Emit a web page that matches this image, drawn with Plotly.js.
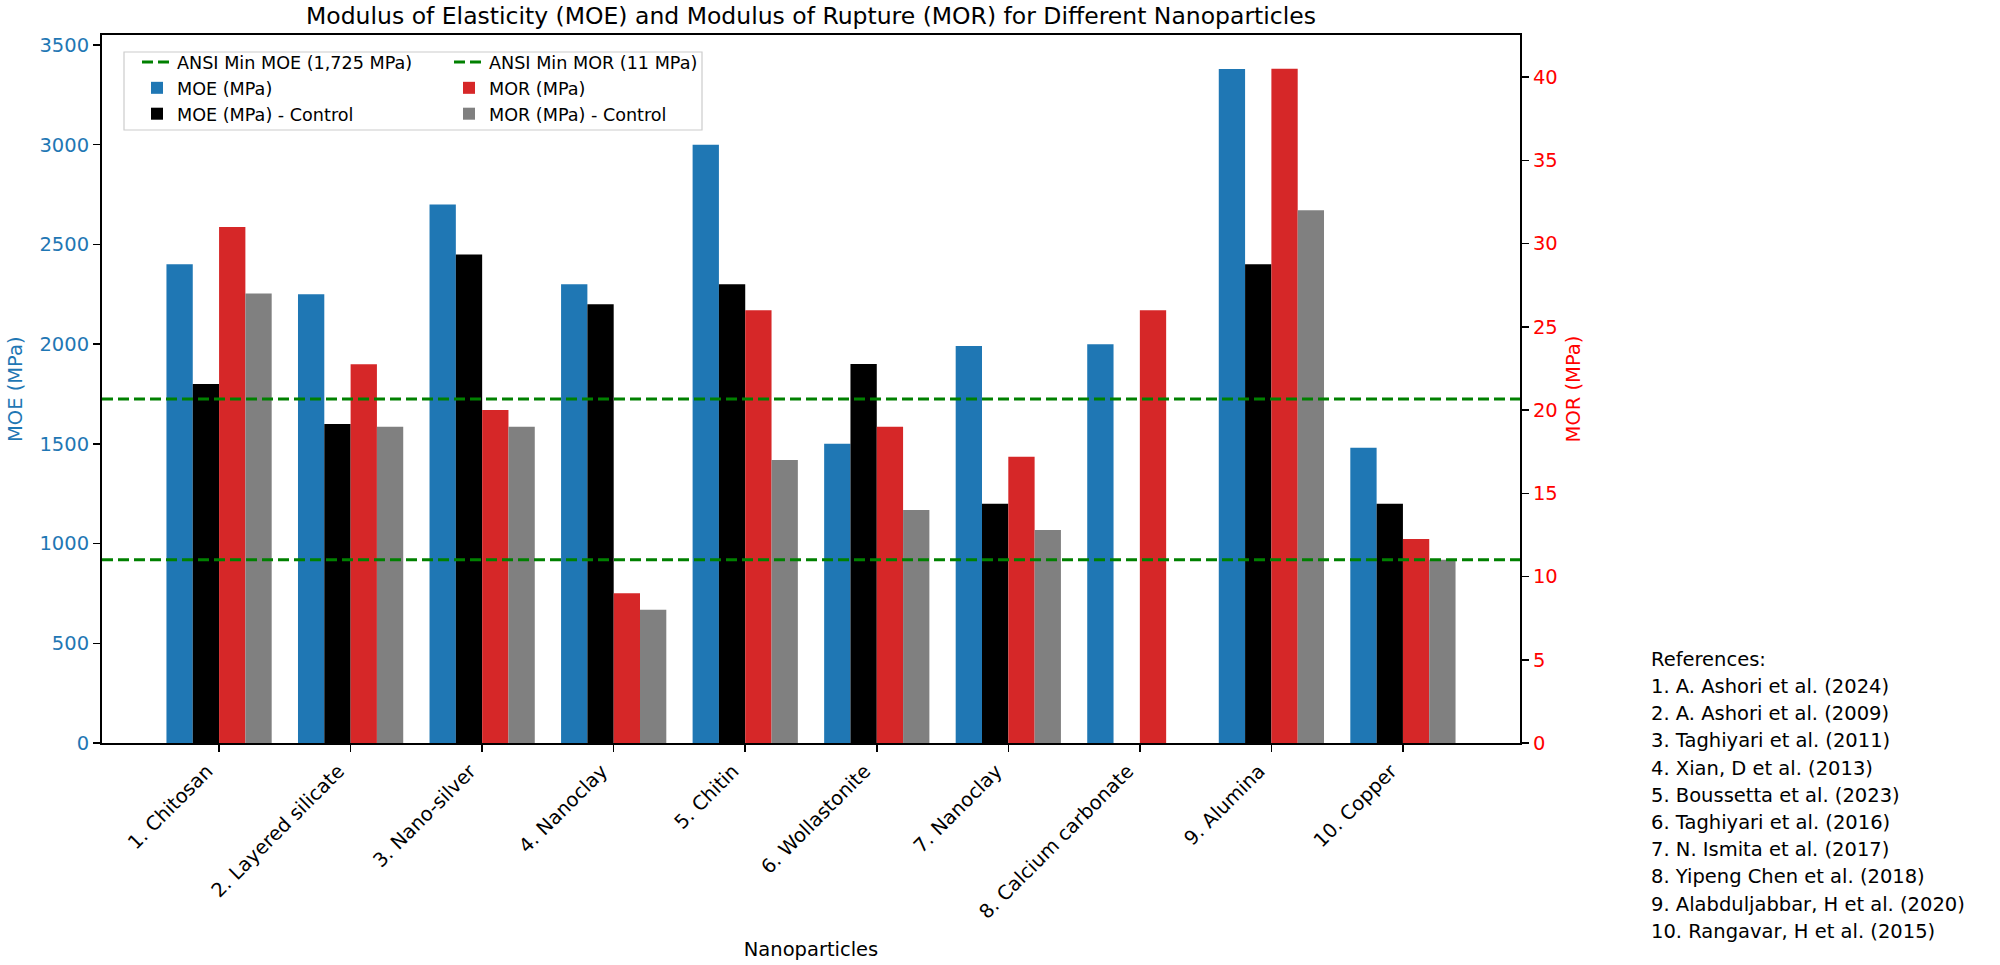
<!DOCTYPE html>
<html>
<head>
<meta charset="utf-8">
<script src="https://cdn.plot.ly/plotly-3.0.1.min.js"></script>
<style>html,body{margin:0;padding:0;background:#fff;}#chart{width:2000px;height:965px;}</style>
</head>
<body>
<div id="chart"></div>
<script>
// ---- data ----
const categories = ["1. Chitosan", "2. Layered silicate", "3. Nano-silver", "4. Nanoclay", "5. Chitin",
  "6. Wollastonite", "7. Nanoclay", "8. Calcium carbonate", "9. Alumina", "10. Copper"];
const moe = [2400, 2250, 2700, 2300, 3000, 1500, 1990, 2000, 3380, 1480];
const moeControl = [1800, 1600, 2450, 2200, 2300, 1900, 1200, null, 2400, 1200];
const mor = [31, 22.75, 20, 9, 26, 19, 17.2, 26, 40.5, 12.25];
const morControl = [27, 19, 19, 8, 17, 14, 12.8, null, 32, 11];
const ansiMinMOE = 1725;
const ansiMinMOR = 11;
const references = ["References:", "1. A. Ashori et al. (2024)", "2. A. Ashori et al. (2009)",
  "3. Taghiyari et al. (2011)", "4. Xian, D et al. (2013)", "5. Boussetta et al. (2023)",
  "6. Taghiyari et al. (2016)", "7. N. Ismita et al. (2017)", "8. Yipeng Chen et al. (2018)",
  "9. Alabduljabbar, H et al. (2020)", "10. Rangavar, H et al. (2015)"];

// ---- layout geometry (pixels) ----
const W = 2000, H = 965;
const PL = 102, PR = 1520, PT = 35, PB = 743;
const FONT = "DejaVu Sans, Verdana, sans-serif";
const px2paperX = p => (p - PL) / (PR - PL);
const px2paperY = p => (PB - p) / (PB - PT);

const BLUE = "#1f77b4", RED = "#d62728", LABELRED = "#ff0000";

function bar(name, y, color, offset, yaxis, legend, rank) {
  return {
    type: "bar", name: name, x: categories, y: y, yaxis: yaxis,
    marker: {color: color, line: {width: 0}},
    width: 0.2, offset: offset, legend: legend, legendrank: rank,
    hoverinfo: "x+y+name"
  };
}

const traces = [
  bar("MOE (MPa)", moe, BLUE, -0.4, "y", "legend", 2),
  bar("MOE (MPa) - Control", moeControl, "#000000", -0.2, "y", "legend", 3),
  bar("MOR (MPa)", mor, RED, 0.0, "y2", "legend2", 2),
  bar("MOR (MPa) - Control", morControl, "#808080", 0.2, "y2", "legend2", 3)
];

const annotations = references.map((t, i) => ({
  text: t, xref: "paper", yref: "paper", showarrow: false,
  x: px2paperX(1649), xanchor: "left",
  y: px2paperY(666 + 27.2 * i - 6.8), yanchor: "middle",
  font: {family: FONT, size: 19.5, color: "#000"}
}));
annotations.push({
  text: "MOE (MPa)", xref: "paper", yref: "paper", showarrow: false,
  x: px2paperX(15), xanchor: "center", y: 0.5, yanchor: "middle", textangle: -90,
  font: {family: FONT, size: 19.5, color: BLUE}
});

const layout = {
  width: W, height: H,
  paper_bgcolor: "#fff", plot_bgcolor: "#fff",
  margin: {l: PL, r: W - PR, t: PT, b: H - PB, pad: 0, autoexpand: false},
  font: {family: FONT, color: "#000"},
  barmode: "overlay",
  title: {
    text: "Modulus of Elasticity (MOE) and Modulus of Rupture (MOR) for Different Nanoparticles",
    font: {family: FONT, size: 23.5, color: "#000"},
    xref: "container", yref: "container", x: (PL + PR) / 2 / W, xanchor: "center",
    y: 1 - 16 / H, yanchor: "middle"
  },
  xaxis: {
    type: "category", range: [-0.89, 9.89], automargin: false,
    showline: true, linecolor: "#000", linewidth: 2, mirror: true,
    ticks: "outside", ticklen: 7, tickwidth: 1.5, tickcolor: "#000",
    tickangle: -45, ticklabelshift: -12, tickfont: {family: FONT, size: 19.5, color: "#000"},
    showgrid: false, zeroline: false,
    title: {text: "Nanoparticles", font: {family: FONT, size: 19.5, color: "#000"}, standoff: 20}
  },
  yaxis: {
    range: [0, 3550], dtick: 500, tick0: 0, automargin: false,
    showline: true, linecolor: "#000", linewidth: 2,
    ticks: "outside", ticklen: 7, tickwidth: 1.5, tickcolor: "#000",
    tickfont: {family: FONT, size: 19.5, color: BLUE},
    showgrid: false, zeroline: false
  },
  yaxis2: {
    range: [0, 42.525], dtick: 5, tick0: 0, overlaying: "y", side: "right", automargin: false,
    showline: true, linecolor: "#000", linewidth: 2,
    ticks: "outside", ticklen: 7, tickwidth: 1.5, tickcolor: "#000",
    tickfont: {family: FONT, size: 19.5, color: LABELRED},
    showgrid: false, zeroline: false,
    title: {text: "MOR (MPa)", font: {family: FONT, size: 19.5, color: LABELRED}, standoff: 10}
  },
  shapes: [
    {type: "rect", xref: "paper", yref: "paper", layer: "above",
     x0: px2paperX(124), x1: px2paperX(702), y0: px2paperY(130), y1: px2paperY(52),
     line: {color: "#cccccc", width: 1.2}, fillcolor: "rgba(255,255,255,0.8)"},
    {type: "line", xref: "paper", yref: "y", x0: 0, x1: 1, y0: ansiMinMOE, y1: ansiMinMOE,
     line: {color: "#008000", width: 3, dash: "11px,5px"}, layer: "above",
     showlegend: true, name: "ANSI Min MOE (1,725 MPa)", legend: "legend", legendrank: 1},
    {type: "line", xref: "paper", yref: "y2", x0: 0, x1: 1, y0: ansiMinMOR, y1: ansiMinMOR,
     line: {color: "#008000", width: 3, dash: "11px,5px"}, layer: "above",
     showlegend: true, name: "ANSI Min MOR (11 MPa)", legend: "legend2", legendrank: 1}
  ],
  legend: {
    xref: "container", yref: "container", x: 137 / W, y: 1 - 44 / H, xanchor: "left", yanchor: "top",
    bgcolor: "rgba(0,0,0,0)", borderwidth: 0, font: {family: FONT, size: 17.6, color: "#000"},
    tracegroupgap: 0, traceorder: "normal"
  },
  legend2: {
    xref: "container", yref: "container", x: 449 / W, y: 1 - 44 / H, xanchor: "left", yanchor: "top",
    bgcolor: "rgba(0,0,0,0)", borderwidth: 0, font: {family: FONT, size: 17.6, color: "#000"},
    tracegroupgap: 0, traceorder: "normal"
  },
  annotations: annotations
};

Plotly.newPlot("chart", traces, layout, {staticPlot: true, displayModeBar: false});
</script>
</body>
</html>
